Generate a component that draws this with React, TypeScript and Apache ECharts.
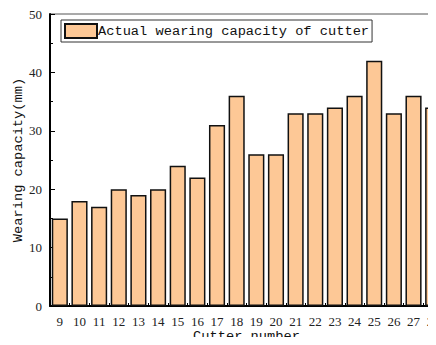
import React, { useEffect, useRef } from "react";
import * as echarts from "echarts";

const categories = ["9","10","11","12","13","14","15","16","17","18","19","20","21","22","23","24","25","26","27","28"];
const wearValues = [15, 18, 17, 20, 19, 20, 24, 22, 31, 36, 26, 26, 33, 33, 34, 36, 42, 33, 36, 34];
const seriesName = "Actual wearing capacity of cutter";
const xName = "Cutter number";
const yName = "Wearing capacity(mm)";

export default function App() {
  const ref = useRef<HTMLDivElement>(null);
  useEffect(() => {
    if (!ref.current) return;
    const chart = echarts.init(ref.current, null, { renderer: "svg" });
    const mono = "'Liberation Mono', monospace";
    const serif = "'Liberation Serif', serif";
    chart.setOption({
      animation: false,
      backgroundColor: "#fff",
      grid: {
        left: 50, top: 14, bottom: 39, width: 393,
        outerBoundsMode: "none", containLabel: false,
        show: true, borderColor: "#555", borderWidth: 1, backgroundColor: "transparent",
      },
      legend: {
        left: 61, top: 20, padding: [3, 3, 3, 3],
        itemWidth: 32, itemHeight: 14, itemGap: 0,
        borderColor: "#333", borderWidth: 1, borderRadius: 0,
        data: [{ name: seriesName, icon: "rect" }],
        textStyle: { fontFamily: mono, fontSize: 13.7, color: "#111", padding: [0, 0, 0, -4] },
      },
      xAxis: [
        {
          type: "category", data: categories, position: "bottom",
          name: xName, nameLocation: "middle", nameGap: 23, nameMoveOverlap: false,
          nameTextStyle: { fontFamily: mono, fontSize: 13.7, color: "#111" },
          axisLine: { show: true, lineStyle: { color: "#000", width: 2 } },
          axisTick: { show: true, inside: true, alignWithLabel: true, interval: 0, length: 5, lineStyle: { color: "#000" } },
          axisLabel: { interval: 0, margin: 9, fontFamily: serif, fontSize: 13, color: "#222" },
          splitLine: { show: false },
        },
        {
          type: "category", data: categories, position: "bottom", gridIndex: 0,
          axisLine: { show: false },
          axisTick: { show: true, inside: true, interval: 0, length: 3, lineStyle: { color: "#000" } },
          axisLabel: { show: false },
          splitLine: { show: false },
        },
      ],
      yAxis: {
        type: "value", min: 0, max: 50, interval: 10,
        name: yName, nameLocation: "middle", nameGap: 25, nameMoveOverlap: false,
        nameTextStyle: { fontFamily: mono, fontSize: 13.7, color: "#111" },
        axisLine: { show: true, lineStyle: { color: "#000", width: 2 } },
        axisTick: { show: true, inside: true, length: 5, lineStyle: { color: "#000" } },
        minorTick: { show: true, splitNumber: 2, length: 3, lineStyle: { color: "#000" } },
        axisLabel: { margin: 8, fontFamily: serif, fontSize: 13, color: "#222" },
        splitLine: { show: false },
      },
      series: [
        {
          name: seriesName, type: "bar", data: wearValues, xAxisIndex: 0,
          barCategoryGap: "18%",
          itemStyle: { color: "#fdc896", borderColor: "#111", borderWidth: 1.5 },
        },
      ],
    });
    return () => chart.dispose();
  }, []);
  return <div ref={ref} style={{ width: 436, height: 345, margin: -8 }} />;
}
